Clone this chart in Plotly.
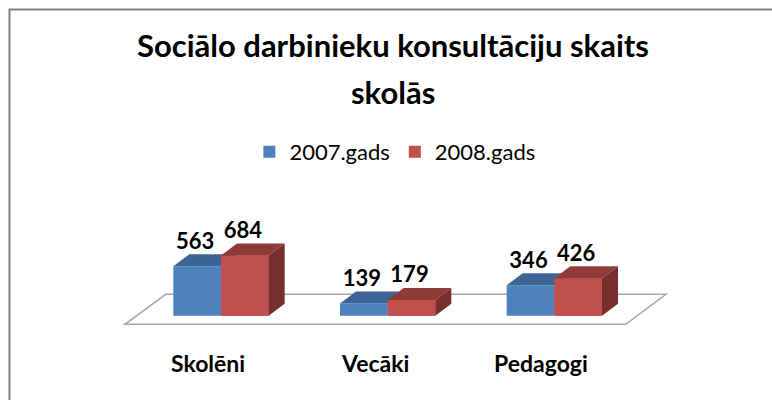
import plotly.graph_objects as go

categories = ["Skolēni", "Vecāki", "Pedagogi"]
series_names = ["2007.gads", "2008.gads"]
values_2007 = [563, 139, 346]
values_2008 = [684, 179, 426]

# style / geometry (not data)
FONT = "Lato"
BLUE, BLUE_TOP, BLUE_SIDE = "#4F81BD", "#3C6595", "#2F5078"
RED, RED_TOP, RED_SIDE = "#C0504D", "#8F3B39", "#772F2D"
BAR_W = 0.286          # width of one bar in category units
DX, DY = 0.096, 136    # 3-D depth offset in axis units
XR = [-1.326, 3.306]
YR = [-958, 3588]

xs = list(range(len(categories)))

fig = go.Figure()

# front faces as real bars
fig.add_trace(go.Bar(x=xs, y=values_2007, name=series_names[0], marker=dict(color=BLUE, line=dict(width=0))))
fig.add_trace(go.Bar(x=xs, y=values_2008, name=series_names[1], marker=dict(color=RED, line=dict(width=0))))


def poly(pts, color):
    px = [p[0] for p in pts] + [pts[0][0]]
    py = [p[1] for p in pts] + [pts[0][1]]
    fig.add_trace(go.Scatter(x=px, y=py, mode="lines", fill="toself", fillcolor=color,
                             line=dict(width=0, color=color), showlegend=False, hoverinfo="skip"))


for i, c in enumerate(xs):
    b, r = values_2007[i], values_2008[i]
    bx0, bx1 = c - BAR_W, c
    rx0, rx1 = c, c + BAR_W
    # blue top
    poly([(bx0, b), (bx1, b), (bx1 + DX, b + DY), (bx0 + DX, b + DY)], BLUE_TOP)
    # red front (redrawn to occlude the blue top/side behind it)
    poly([(rx0, 0), (rx1, 0), (rx1, r), (rx0, r)], RED)
    # red top
    poly([(rx0, r), (rx1, r), (rx1 + DX, r + DY), (rx0 + DX, r + DY)], RED_TOP)
    # red side
    poly([(rx1, 0), (rx1 + DX, DY), (rx1 + DX, r + DY), (rx1, r)], RED_SIDE)

# data labels
lab_x = [c - BAR_W / 2 - 0.012 for c in xs] + [c + BAR_W / 2 - 0.012 for c in xs]
lab_y = [v + DY for v in values_2007] + [v + DY for v in values_2008]
lab_t = [str(v) for v in values_2007] + [str(v) for v in values_2008]
fig.add_trace(go.Scatter(x=lab_x, y=lab_y, mode="text", text=lab_t, textposition="top center",
                         textfont=dict(family=FONT, size=22, color="#000000", weight="bold"),
                         showlegend=False, hoverinfo="skip"))

# category labels
for i, c in enumerate(xs):
    fig.add_annotation(x=c - 0.078, y=-537, xref="x", yref="y", text=f"<b>{categories[i]}</b>",
                       showarrow=False, font=dict(family=FONT, size=23, color="#000000"),
                       xanchor="center", yanchor="middle")

# floor
fig.add_shape(type="path", xref="x", yref="y", layer="below",
              path="M -0.576 -98 L 2.428 -98 L 2.670 243 L -0.332 243 Z",
              fillcolor="white", line=dict(color="#A6A6A6", width=1.5))

# chart border
fig.add_shape(type="rect", xref="paper", yref="paper", x0=9.5 / 772, x1=1.05, y0=-0.05, y1=1 - 9.5 / 400,
              line=dict(color="#808080", width=2), fillcolor="rgba(0,0,0,0)", layer="below")

fig.add_annotation(x=0.509, y=1 - 92 / 400, xref="paper", yref="paper", text="<b>skolās</b>",
                   showarrow=False, font=dict(family=FONT, size=31, color="#000000"),
                   xanchor="center", yanchor="middle")

fig.update_layout(
    width=772, height=400,
    margin=dict(l=0, r=0, t=0, b=0),
    paper_bgcolor="white", plot_bgcolor="white",
    barmode="group", bargap=0.428, bargroupgap=0,
    title=dict(text="<b>Sociālo darbinieku konsultāciju skaits</b>", x=0.509, y=1 - 46 / 400,
               xanchor="center", yanchor="middle", font=dict(family=FONT, size=31, color="#000000")),
    legend=dict(orientation="h", x=0.5115, y=1 - 152 / 400, xanchor="center", yanchor="middle",
                font=dict(family=FONT, size=22, color="#000000"), bgcolor="rgba(0,0,0,0)"),
    xaxis=dict(range=XR, visible=False, fixedrange=True),
    yaxis=dict(range=YR, visible=False, fixedrange=True),
    showlegend=True,
)

fig.write_html("out.html", config={"displayModeBar": False},
               post_script="document.body.style.margin='0px';document.body.style.overflow='hidden';")
